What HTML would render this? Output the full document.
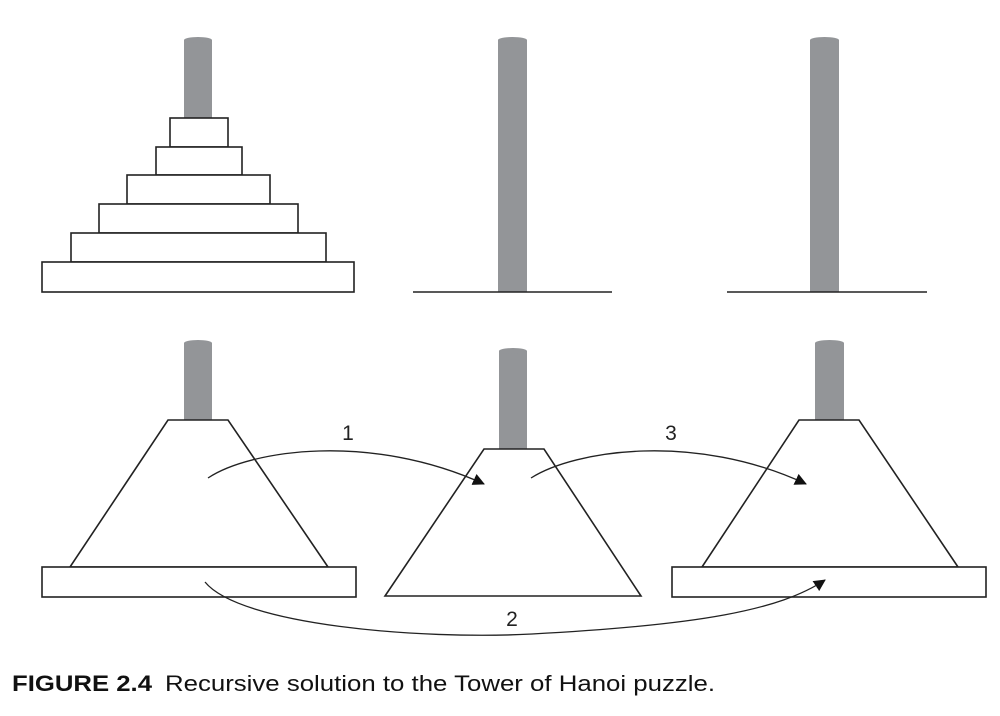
<!DOCTYPE html>
<html><head><meta charset="utf-8"><style>html,body{margin:0;padding:0;background:#fff}svg{display:block}</style></head>
<body>
<svg width="1000" height="716" viewBox="0 0 1000 716" xmlns="http://www.w3.org/2000/svg">
<defs>
<marker id="ah" markerWidth="12" markerHeight="12" refX="11" refY="6" orient="auto" markerUnits="userSpaceOnUse">
<path d="M0,0 L12,6 L0,12 z" fill="#111"/>
</marker>
</defs>
<g fill="#939598">
<rect x="184" y="40" width="28" height="80" /><ellipse cx="198" cy="40" rx="14" ry="3"/>
<rect x="498" y="40" width="29" height="252"/><ellipse cx="512.5" cy="40" rx="14.5" ry="3"/>
<rect x="810" y="40" width="29" height="252"/><ellipse cx="824.5" cy="40" rx="14.5" ry="3"/>
<rect x="184" y="343" width="28" height="78"/><ellipse cx="198" cy="343" rx="14" ry="3"/>
<rect x="499" y="351" width="28" height="99"/><ellipse cx="513" cy="351" rx="14" ry="3"/>
<rect x="815" y="343" width="29" height="78"/><ellipse cx="829.5" cy="343" rx="14.5" ry="3"/>
</g>
<g fill="#fff" stroke="#222" stroke-width="1.6">
<rect x="170" y="118" width="58" height="29"/>
<rect x="156" y="147" width="86" height="28"/>
<rect x="127" y="175" width="143" height="29"/>
<rect x="99" y="204" width="199" height="29"/>
<rect x="71" y="233" width="255" height="29"/>
<rect x="42" y="262" width="312" height="30"/>
<line x1="413" y1="292" x2="612" y2="292"/>
<line x1="727" y1="292" x2="927" y2="292"/>
<polygon points="168,420 228,420 328,567 70,567"/>
<rect x="42" y="567" width="314" height="30"/>
<polygon points="484,449 544,449 641,596 385,596"/>
<polygon points="799,420 859,420 958,567 702,567"/>
<rect x="672" y="567" width="314" height="30"/>
</g>
<g fill="none" stroke="#222" stroke-width="1.3">
<path d="M208,478 C250,450 370,432 484,484" marker-end="url(#ah)"/>
<path d="M531,478 C575,450 695,432 806,484" marker-end="url(#ah)"/>
<path d="M205,582 C240,625 420,640 532,634 C700,625 780,610 825,580" marker-end="url(#ah)"/>
</g>
<g font-family="Liberation Sans, sans-serif" font-size="21" fill="#222" text-anchor="middle">
<text x="348" y="440">1</text>
<text x="671" y="440">3</text>
<text x="512" y="626">2</text>
</g>
<text x="12" y="691" font-family="Liberation Sans, sans-serif" font-size="22" fill="#111"><tspan font-weight="bold" textLength="140" lengthAdjust="spacingAndGlyphs">FIGURE 2.4</tspan><tspan x="165" textLength="550" lengthAdjust="spacingAndGlyphs">Recursive solution to the Tower of Hanoi puzzle.</tspan></text>
</svg>
</body></html>
